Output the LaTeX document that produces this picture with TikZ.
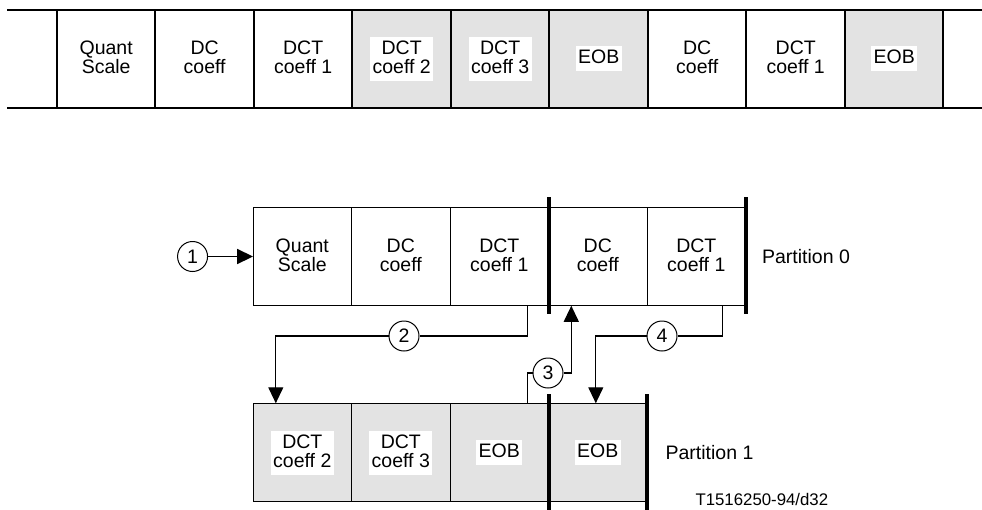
\documentclass[tikz,border=0pt]{standalone}
\usepackage{fontspec}
\setmainfont{Liberation Sans}
\usetikzlibrary{arrows.meta,positioning}
\definecolor{cellgray}{HTML}{E3E3E3}
\newcommand\cellfont{\fontsize{19.5}{19}\selectfont}
\newcommand\wbox[1]{{\setlength\fboxsep{2.5pt}\lineskiplimit=-100pt%
  \colorbox{white}{\vbox{\let\\\cr\halign{\hfil\rule[-5pt]{0pt}{20pt}##\hfil\cr#1\crcr}}}}}

\begin{document}
\begin{tikzpicture}[x=1pt,y=-1pt,
  cell/.style={draw,minimum width=98.5pt,minimum height=98.5pt,inner sep=0pt,outer sep=0pt,font=\cellfont},
  topcell/.style={cell,line width=2pt},
  lowcell/.style={cell,line width=1pt},
  shaded/.style={fill=cellgray},
  bar/.style={line width=4pt},
  num/.style={draw,circle,minimum size=30pt,inner sep=0pt,line width=1pt,fill=white,font=\cellfont},
  link/.style={line width=1.2pt},
  arrow/.style={link,-{Triangle[length=16pt,width=15pt]}}
]
\useasboundingbox (0,0) rectangle (982,509);
% bitstream of one macroblock
\draw[line width=2pt] (7,9.5) -- (982,9.5);
\draw[line width=2pt] (7,108) -- (982,108);
\node[topcell] (s1) at (106.2,58.75) {\wbox{Quant\\Scale}};
\node[topcell,right=0pt of s1] (s2) {\wbox{DC\\coeff}};
\node[topcell,right=0pt of s2] (s3) {\wbox{DCT\\coeff 1}};
\node[topcell,shaded,right=0pt of s3] (s4) {\wbox{DCT\\coeff 2}};
\node[topcell,shaded,right=0pt of s4] (s5) {\wbox{DCT\\coeff 3}};
\node[topcell,shaded,right=0pt of s5] (s6) {\wbox{EOB}};
\node[topcell,right=0pt of s6] (s7) {\wbox{DC\\coeff}};
\node[topcell,right=0pt of s7] (s8) {\wbox{DCT\\coeff 1}};
\node[topcell,shaded,right=0pt of s8] (s9) {\wbox{EOB}};
% partition 0
\node[lowcell] (p0a) at (302.3,256.5) {\wbox{Quant\\Scale}};
\node[lowcell,right=0pt of p0a] (p0b) {\wbox{DC\\coeff}};
\node[lowcell,right=0pt of p0b] (p0c) {\wbox{DCT\\coeff 1}};
\node[lowcell,right=0pt of p0c] (p0d) {\wbox{DC\\coeff}};
\node[lowcell,right=0pt of p0d] (p0e) {\wbox{DCT\\coeff 1}};
\draw[bar] ([yshift=10pt]p0c.north east) -- ([yshift=-8pt]p0c.south east);
\draw[bar] ([yshift=10pt]p0e.north east) -- ([yshift=-8pt]p0e.south east);
\node[font=\cellfont,right=13pt of p0e] (lab0) {Partition 0};
% partition 1
\node[lowcell,shaded] (p1a) at (302.3,452.5) {\wbox{DCT\\coeff 2}};
\node[lowcell,shaded,right=0pt of p1a] (p1b) {\wbox{DCT\\coeff 3}};
\node[lowcell,shaded,right=0pt of p1b] (p1c) {\wbox{EOB}};
\node[lowcell,shaded,right=0pt of p1c] (p1d) {\wbox{EOB}};
\draw[bar] ([yshift=9pt]p1c.north east) -- ([yshift=-8pt]p1c.south east);
\draw[bar] ([yshift=9pt]p1d.north east) -- ([yshift=-8pt]p1d.south east);
\node[font=\cellfont,right=15pt of p1d] (lab1) {Partition 1};
\node[font=\fontsize{16.8}{18}\selectfont,anchor=west] (fig) at (692,499) {T1516250-94/d32};
% decoding order
\node[num,left=45pt of p0a] (n1) {1};
\node[num] (n2) at (404,336) {2};
\node[num] (n3) at (548,373) {3};
\node[num] (n4) at (662,336) {4};
\draw[arrow,line width=1.8pt] (n1) -- (p0a);
\draw[link] ([xshift=28pt]p0c.south) |- (n2);
\draw[arrow] (n2) -| ([xshift=-26.5pt]p1a.north);
\draw[link] ([xshift=28pt]p1c.north) |- (n3);
\draw[arrow] (n3) -| ([xshift=-26.5pt]p0d.south);
\draw[link] ([xshift=26.5pt]p0e.south) |- (n4);
\draw[arrow] (n4) -| ([xshift=-2pt]p1d.north);
\end{tikzpicture}
\end{document}
